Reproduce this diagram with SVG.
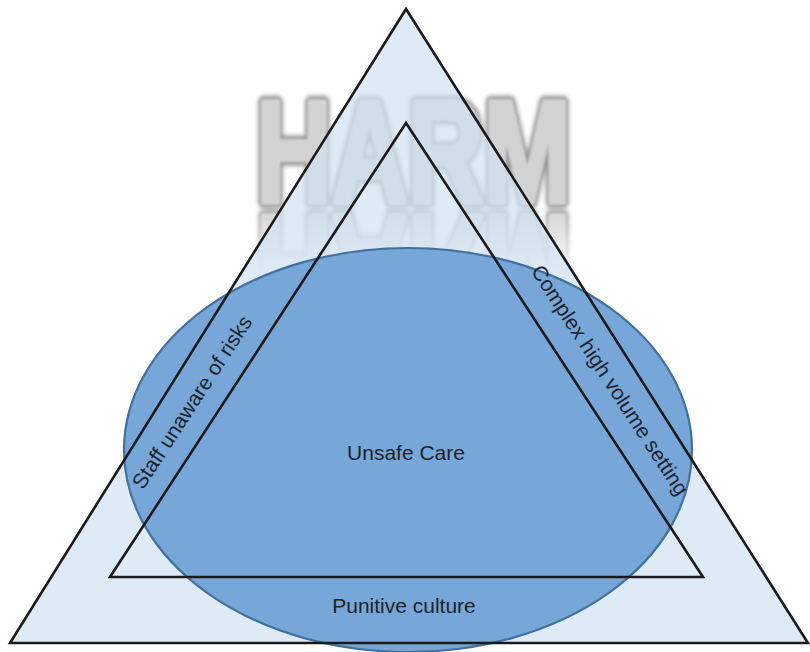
<svg xmlns="http://www.w3.org/2000/svg" xmlns:xlink="http://www.w3.org/1999/xlink" width="810" height="652" viewBox="0 0 810 652">
  <style>
    .edge { fill: none; stroke: #1a1a1a; stroke-width: 2.6; stroke-linejoin: miter; }
    .lbl { font-family: "Liberation Sans", Arial, sans-serif; font-size: 21px; fill: #1e2329; text-anchor: middle; }
    .harm { font-family: "Liberation Sans", Arial, sans-serif; font-weight: bold; font-size: 144px; }
  </style>
  <defs>
    <filter id="soft" x="-10%" y="-20%" width="120%" height="140%">
      <feGaussianBlur stdDeviation="2"/>
    </filter>
    <filter id="soft2" x="-10%" y="-20%" width="120%" height="140%">
      <feGaussianBlur stdDeviation="0.9"/>
    </filter>
    <g id="harmWord">
      <text class="harm" x="256" y="202" textLength="315" lengthAdjust="spacingAndGlyphs" fill="#999999" stroke="#999999" stroke-width="13" stroke-linejoin="round" filter="url(#soft)">HARM</text>
      <text class="harm" x="256" y="202" textLength="315" lengthAdjust="spacingAndGlyphs" fill="#d2d2d2" stroke="#d2d2d2" stroke-width="6" stroke-linejoin="round" filter="url(#soft2)">HARM</text>
    </g>
    <linearGradient id="fade" x1="0" y1="208" x2="0" y2="282" gradientUnits="userSpaceOnUse">
      <stop offset="0" stop-color="#fff" stop-opacity="0.95"/>
      <stop offset="1" stop-color="#fff" stop-opacity="0"/>
    </linearGradient>
    <mask id="reflMask" maskUnits="userSpaceOnUse" x="0" y="0" width="810" height="652">
      <rect x="230" y="208" width="370" height="76" fill="url(#fade)"/>
    </mask>
  </defs>

  <rect width="810" height="652" fill="#ffffff"/>

  <g id="harm-title">
    <use xlink:href="#harmWord"/>
    <g mask="url(#reflMask)">
      <use xlink:href="#harmWord" transform="translate(0,418) scale(1,-1)"/>
    </g>
  </g>

  <g id="outer-triangle-fill">
    <polygon points="406,9 10,643 808,643" fill="#d0e2f4" fill-opacity="0.7"/>
  </g>

  <g id="unsafe-care">
    <ellipse cx="408" cy="450" rx="284" ry="202" fill="#77a7d8" stroke="#41719c" stroke-width="2.2"/>
    <text class="lbl" x="406" y="460">Unsafe Care</text>
  </g>

  <g id="outer-triangle">
    <polygon class="edge" points="406,9 10,643 808,643"/>
    <text class="lbl" x="404" y="613">Punitive culture</text>
  </g>

  <g id="inner-triangle">
    <polygon class="edge" points="406,123 110,577 703,577"/>
  </g>

  <g id="side-labels">
    <text class="lbl" transform="translate(198,406) rotate(-56.9)">Staff unaware of risks</text>
    <text class="lbl" transform="translate(604,384) rotate(56.9)">Complex high volume setting</text>
  </g>
</svg>
